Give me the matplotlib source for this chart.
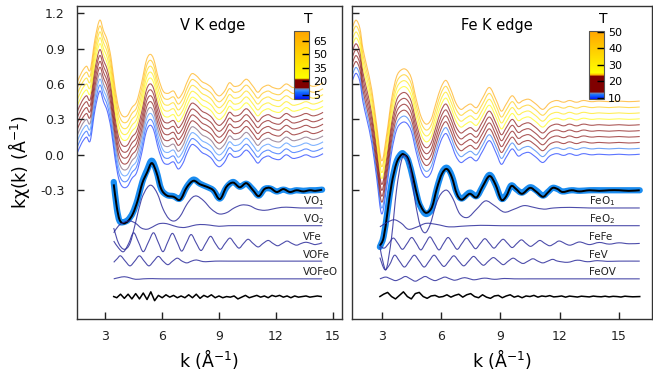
import numpy as np
import matplotlib
matplotlib.use("Agg")
import matplotlib.pyplot as plt
from matplotlib.path import Path
from matplotlib.patches import PathPatch
from matplotlib.colors import LinearSegmentedColormap, Normalize
from matplotlib.colorbar import ColorbarBase

plt.rcParams['font.family'] = ['DejaVu Sans']
plt.rcParams['axes.unicode_minus'] = False

# ---------------- V K edge : temperature series ----------------
v_k = [1.5, 1.75, 2.0, 2.2, 2.45, 2.7, 2.9, 3.1, 3.3, 3.5, 3.7, 3.9, 4.15, 4.4, 4.65, 4.9, 5.15, 5.35,
       5.55, 5.8, 6.05, 6.3, 6.6, 6.85, 7.1, 7.3, 7.55, 7.8, 8.1, 8.35, 8.6, 8.85, 9.05, 9.3, 9.55, 9.8,
       10.1, 10.45, 10.8, 11.05, 11.3, 11.6, 11.85, 12.2, 12.55, 12.9, 13.25, 13.6, 13.95, 14.25, 14.5]
v_base = [0.01, 0.10, 0.15, 0.12, 0.38, 0.54, 0.45, 0.37, 0.22, -0.02, -0.20, -0.27, -0.27, -0.20, -0.15,
          0.0, 0.19, 0.25, 0.21, 0.05, -0.06, -0.08, -0.06, -0.12, -0.07, 0.01, 0.085, 0.07, 0.02, 0.0,
          -0.03, -0.085, -0.10, -0.06, 0.01, -0.02, -0.01, 0.04, -0.02, -0.07, -0.03, -0.01, -0.03, -0.04,
          0.0, -0.03, -0.02, 0.0, -0.02, -0.01, 0.01]
v_offsets = [0.0, 0.05, 0.10, 0.15, 0.20, 0.25, 0.30, 0.35, 0.40, 0.45, 0.50, 0.55, 0.60]
v_temps = [2, 6, 10, 12, 15, 17, 19, 21, 25, 35, 45, 60, 72]

# fit (black) and data (blue)
vfit_k = [3.44, 3.6, 3.75, 3.95, 4.2, 4.45, 4.7, 4.95, 5.2, 5.45, 5.7, 5.95, 6.25, 6.6, 6.95, 7.3, 7.65,
          8.0, 8.35, 8.7, 9.05, 9.4, 9.75, 10.1, 10.45, 10.8, 11.1, 11.4, 11.7, 12.05, 12.4, 12.75, 13.1,
          13.45, 13.8, 14.1, 14.45]
vfit = [-0.25, -0.44, -0.55, -0.58, -0.56, -0.50, -0.39, -0.24, -0.15, -0.07, -0.15, -0.29, -0.345,
        -0.355, -0.38, -0.275, -0.22, -0.25, -0.27, -0.30, -0.375, -0.27, -0.235, -0.275, -0.24, -0.30,
        -0.35, -0.29, -0.28, -0.315, -0.29, -0.315, -0.30, -0.31, -0.30, -0.305, -0.295]
vdat = [-0.23, -0.45, -0.56, -0.57, -0.55, -0.49, -0.38, -0.23, -0.13, -0.05, -0.14, -0.29, -0.34,
        -0.35, -0.37, -0.27, -0.21, -0.245, -0.27, -0.30, -0.37, -0.275, -0.23, -0.27, -0.245, -0.295,
        -0.345, -0.29, -0.285, -0.31, -0.295, -0.31, -0.30, -0.305, -0.30, -0.30, -0.295]

# scattering paths (relative to their baselines)
vo1_k = [3.44, 3.7, 4.0, 4.3, 4.6, 4.9, 5.2, 5.45, 5.75, 6.05, 6.35, 6.65, 6.95, 7.3, 7.6, 7.85, 8.2,
         8.6, 9.0, 9.4, 9.8, 10.2, 10.6, 11.0, 11.4, 11.8, 12.3, 12.8, 13.3, 13.9, 14.45]
vo1_v = [-0.17, -0.30, -0.35, -0.30, -0.12, 0.07, 0.17, 0.19, 0.12, -0.01, -0.09, -0.11, -0.07, 0.03,
         0.09, 0.10, 0.06, -0.01, -0.05, -0.04, 0.0, 0.025, 0.02, -0.01, -0.02, -0.01, 0.005, 0.005,
         0.0, 0.0, 0.0]
vo2_k = [3.44, 3.7, 4.0, 4.3, 4.6, 4.9, 5.2, 5.5, 5.8, 6.1, 6.4, 6.8, 7.2, 7.6, 8.0, 8.5, 9.0, 9.5,
         10.5, 12.0, 14.45]
vo2_v = [-0.06, 0.0, 0.03, 0.04, 0.02, -0.02, -0.03, -0.01, 0.015, 0.02, 0.01, -0.01, -0.015, 0.0,
         0.01, 0.005, -0.005, 0.0, 0.0, 0.0, 0.0]
vfe_k = [3.44, 3.7, 3.96, 4.23, 4.49, 4.75, 5.0, 5.27, 5.54, 5.79, 6.04, 6.29, 6.54, 6.79, 7.03, 7.28,
         7.53, 7.79, 8.05, 8.3, 8.56, 8.81, 9.07, 9.32, 9.58, 9.82, 10.06, 10.3, 10.54, 10.8, 11.07,
         11.33, 11.6, 11.85, 12.1, 12.35, 12.6, 12.85, 13.1, 13.35, 13.6, 13.85, 14.1, 14.45]
vfe_v = [0.02, -0.04, -0.07, 0.0, 0.09, 0.01, -0.07, 0.01, 0.09, 0.01, -0.07, 0.01, 0.085, 0.01,
         -0.065, 0.005, 0.075, 0.005, -0.06, 0.0, 0.06, 0.0, -0.05, 0.0, 0.045, 0.0, -0.04, 0.0, 0.035,
         0.0, -0.03, 0.0, 0.025, 0.0, -0.02, 0.0, 0.02, 0.0, -0.015, 0.0, 0.01, 0.0, -0.01, 0.005]
vofe_k = [3.44, 3.62, 3.8, 4.05, 4.3, 4.55, 4.8, 5.05, 5.3, 5.55, 5.8, 6.05, 6.3, 6.55, 6.8, 7.05, 7.3,
          7.55, 7.8, 8.05, 8.3, 8.8, 9.5, 11.0, 12.5, 14.45]
vofe_v = [-0.01, 0.02, 0.045, 0.0, -0.04, 0.0, 0.045, 0.0, -0.04, 0.0, 0.04, 0.0, -0.03, 0.0, 0.025,
          0.0, -0.015, 0.0, 0.01, 0.0, -0.005, 0.0, 0.0, 0.0, 0.0, 0.0]
vofeo_k = [3.44, 3.7, 4.0, 4.3, 4.6, 5.0, 5.5, 6.0, 8.0, 11.0, 14.45]
vofeo_v = [0.0, 0.01, 0.018, 0.008, -0.004, 0.0, 0.002, 0.0, 0.0, 0.0, 0.0]
vres_k = [3.44, 3.6, 3.8, 4.0, 4.2, 4.4, 4.6, 4.8, 5.0, 5.2, 5.4, 5.6, 5.8, 6.0, 6.2, 6.4, 6.6, 6.8,
          7.0, 7.2, 7.4, 7.6, 7.8, 8.0, 8.2, 8.4, 8.6, 8.8, 9.0, 9.2, 9.4, 9.6, 9.8, 10.0, 10.2, 10.4,
          10.6, 10.8, 11.0, 11.2, 11.4, 11.6, 11.8, 12.0, 12.2, 12.4, 12.6, 12.8, 13.0, 13.2, 13.4,
          13.6, 13.8, 14.0, 14.2, 14.4]
vres_v = [0.0, -0.01, 0.02, -0.015, 0.02, -0.02, 0.025, -0.02, 0.03, -0.025,
          0.04, -0.035, 0.01, -0.01, 0.015, -0.005, 0.01, -0.01, 0.005, -0.01,
          0.015, -0.01, 0.02, -0.015, 0.01, -0.005, 0.015, -0.01, 0.005, -0.01,
          0.0, -0.005, 0.005, -0.02, -0.005, 0.01, -0.01, 0.0, 0.01, -0.005,
          0.005, -0.01, 0.01, 0.0, 0.01, -0.005, 0.005, -0.01, 0.005, -0.005,
          0.0, 0.005, -0.005, 0.0, 0.005, 0.0]
v_labels = ['VO$_1$', 'VO$_2$', 'VFe', 'VOFe', 'VOFeO']

# ---------------- Fe K edge ----------------
f_k = [1.5, 1.7, 1.9, 2.05, 2.25, 2.5, 2.75, 3.0, 3.25, 3.5, 3.75, 4.0, 4.25, 4.5, 4.75, 5.0, 5.25,
       5.5, 5.75, 6.0, 6.25, 6.5, 6.75, 7.0, 7.25, 7.5, 7.8, 8.1, 8.45, 8.8, 9.05, 9.3, 9.6, 9.9, 10.15,
       10.45, 10.8, 11.15, 11.5, 11.85, 12.2, 12.5, 12.85, 13.2, 13.6, 14.0, 14.5, 15.0, 15.5, 16.05]
f_base = [0.62, 0.69, 0.62, 0.45, 0.30, 0.10, -0.20, -0.50, -0.28, 0.02, 0.21, 0.27, 0.27, 0.20, 0.02,
          -0.13, -0.19, -0.15, -0.01, 0.12, 0.18, 0.10, -0.01, -0.065, -0.04, -0.02, -0.05, 0.03, 0.12,
          0.01, -0.08, -0.02, 0.05, -0.01, 0.01, 0.02, -0.02, -0.065, -0.01, 0.01, -0.005, 0.01, -0.005,
          0.01, 0.0, 0.005, 0.0, 0.005, 0.0, 0.005]
f_offsets = [0.0, 0.05, 0.10, 0.15, 0.20, 0.25, 0.30, 0.35, 0.40, 0.45]
f_temps = [10, 12, 15, 17, 19, 21, 26, 32, 40, 50]

ffit_k = [2.91, 3.1, 3.3, 3.5, 3.75, 4.0, 4.15, 4.35, 4.6, 4.85, 5.1, 5.3, 5.55, 5.8, 6.05, 6.3, 6.55,
          6.8, 7.05, 7.45, 7.8, 8.1, 8.45, 8.75, 9.05, 9.3, 9.55, 9.8, 10.1, 10.5, 10.8, 11.15, 11.4,
          11.65, 11.9, 12.15, 12.6, 13.0, 13.5, 14.0, 14.5, 15.0, 15.5, 16.05]
ffit = [-0.77, -0.70, -0.48, -0.25, -0.07, 0.0, 0.0, -0.04, -0.20, -0.38, -0.47, -0.49, -0.44, -0.28,
        -0.16, -0.12, -0.19, -0.33, -0.38, -0.33, -0.36, -0.27, -0.18, -0.25, -0.38, -0.35, -0.265,
        -0.29, -0.33, -0.28, -0.31, -0.355, -0.32, -0.28, -0.29, -0.315, -0.30, -0.31, -0.30, -0.305,
        -0.30, -0.30, -0.305, -0.30]
fdat = [-0.78, -0.69, -0.47, -0.24, -0.06, 0.01, 0.0, -0.05, -0.21, -0.39, -0.48, -0.50, -0.45, -0.28,
        -0.15, -0.11, -0.18, -0.32, -0.37, -0.32, -0.35, -0.27, -0.17, -0.25, -0.37, -0.34, -0.26,
        -0.29, -0.32, -0.275, -0.30, -0.345, -0.315, -0.28, -0.29, -0.31, -0.30, -0.305, -0.30, -0.30,
        -0.30, -0.30, -0.30, -0.30]

feo1_k = [2.91, 3.1, 3.25, 3.5, 3.75, 4.0, 4.2, 4.45, 4.7, 4.95, 5.2, 5.45, 5.75, 6.0, 6.3, 6.6, 6.95,
          7.35, 7.8, 8.25, 8.7, 9.2, 9.7, 10.2, 10.7, 11.2, 11.7, 12.5, 13.5, 14.5, 16.05]
feo1_v = [-0.33, -0.48, -0.51, -0.25, 0.15, 0.40, 0.44, 0.33, 0.05, -0.15, -0.21, -0.14, 0.03, 0.12,
          0.15, 0.08, -0.05, -0.08, -0.01, 0.06, 0.02, -0.035, -0.01, 0.02, 0.005, -0.01, 0.0, 0.005,
          0.0, 0.0, 0.0]
feo2_k = [2.91, 3.3, 3.65, 4.0, 4.35, 4.8, 5.25, 5.8, 6.4, 7.0, 8.0, 9.0, 11.0, 13.0, 16.05]
feo2_v = [-0.01, 0.03, 0.05, 0.02, -0.03, -0.01, 0.02, 0.01, -0.01, -0.005, 0.003, 0.0, 0.0, 0.0, 0.0]
fefe_k = [2.91, 3.13, 3.36, 3.59, 3.82, 4.05, 4.29, 4.52, 4.75, 4.98, 5.21, 5.44, 5.67, 5.9, 6.13,
          6.36, 6.59, 6.82, 7.06, 7.29, 7.52, 7.75, 7.99, 8.22, 8.45, 8.68, 8.91, 9.14, 9.37, 9.6,
          9.84, 10.07, 10.3, 10.53, 10.77, 11.0, 11.25, 11.5, 11.75, 12.0, 12.5, 13.0, 13.5, 14.0,
          14.5, 15.0, 15.5, 16.05]
fefe_v = [-0.02, -0.04, 0.0, 0.045, 0.0, -0.05, 0.0, 0.05, 0.0, -0.055, 0.0, 0.055, 0.0, -0.055, 0.0,
          0.05, 0.0, -0.05, 0.0, 0.045, 0.0, -0.045, 0.0, 0.04, 0.0, -0.04, 0.0, 0.035, 0.0, -0.035,
          0.0, 0.03, 0.0, -0.025, 0.0, 0.025, 0.0, -0.02, 0.0, 0.02, -0.015, 0.012, -0.01, 0.008,
          -0.006, 0.005, -0.003, 0.0]
fev_k = [2.91, 3.15, 3.4, 3.65, 3.9, 4.15, 4.4, 4.65, 4.9, 5.15, 5.4, 5.65, 5.9, 6.15, 6.4, 6.65, 6.9,
         7.15, 7.4, 7.65, 7.9, 8.15, 8.4, 8.65, 8.9, 9.15, 9.4, 9.65, 9.9, 10.15, 10.4, 10.65, 10.9,
         11.15, 11.4, 11.65, 11.9, 12.4, 12.9, 13.4, 13.9, 14.4, 15.0, 16.05]
fev_v = [0.03, -0.07, -0.03, 0.05, 0.0, -0.05, 0.0, 0.05, 0.0, -0.05, 0.0, 0.05, 0.0, -0.045, 0.0,
         0.045, 0.0, -0.04, 0.0, 0.04, 0.0, -0.035, 0.0, 0.03, 0.0, -0.03, 0.0, 0.025, 0.0, -0.02,
         0.0, 0.02, 0.0, -0.015, 0.0, 0.015, 0.0, -0.01, 0.008, -0.005, 0.004, -0.002, 0.0, 0.0]
feov_k = [2.91, 3.2, 3.45, 3.7, 3.95, 4.2, 4.45, 4.7, 4.95, 5.2, 5.45, 5.7, 5.95, 6.2, 6.45, 6.7, 6.95,
          7.2, 7.45, 7.7, 8.2, 8.7, 9.2, 9.7, 10.5, 12.0, 14.0, 16.05]
feov_v = [0.0, 0.015, 0.0, -0.015, 0.0, 0.02, 0.0, -0.02, 0.0, 0.02, 0.0, -0.015, 0.0, 0.015, 0.0,
          -0.012, 0.0, 0.01, 0.0, -0.008, 0.006, -0.004, 0.003, 0.0, 0.0, 0.0, 0.0, 0.0]
fres_k = [2.91, 3.1, 3.3, 3.5, 3.7, 3.9, 4.1, 4.3, 4.5, 4.7, 4.9, 5.1, 5.3, 5.5, 5.7, 5.9, 6.1, 6.3,
          6.5, 6.7, 6.9, 7.1, 7.3, 7.5, 7.7, 7.9, 8.1, 8.3, 8.5, 8.7, 8.9, 9.1, 9.3, 9.5, 9.7, 9.9,
          10.1, 10.3, 10.5, 10.7, 10.9, 11.1, 11.3, 11.5, 11.7, 11.9, 12.1, 12.3, 12.5, 12.7, 12.9,
          13.1, 13.3, 13.5, 13.7, 13.9, 14.1, 14.3, 14.5, 14.7, 14.9, 15.1, 15.3, 15.5, 15.7, 16.05]
fres_v = [0.0, 0.02, 0.035, 0.0, -0.02, 0.01, 0.04, 0.0, -0.02, 0.025,
          0.035, 0.0, -0.015, 0.005, 0.01, -0.005, 0.0, 0.015, -0.005, 0.01,
          0.02, -0.005, 0.015, 0.025, 0.0, -0.01, 0.015, -0.005, -0.015, 0.005,
          0.01, -0.01, 0.005, 0.015, -0.005, 0.005, -0.01, 0.005, 0.0, 0.01,
          -0.005, 0.005, 0.0, 0.008, -0.003, 0.0, 0.005, -0.005, 0.004, 0.0,
          -0.004, 0.003, 0.0, -0.003, 0.004, 0.0, -0.002, 0.003, -0.003, 0.002,
          0.0, -0.004, 0.003, 0.0, -0.002, 0.0]
f_labels = ['FeO$_1$', 'FeO$_2$', 'FeFe', 'FeV', 'FeOV']

path_baselines = [-0.45, -0.60, -0.75, -0.90, -1.05]
resid_baseline = -1.20

# colour scale nodes (temperature, colour)
v_cnodes = [(0.5, '#0018ff'), (8.0, '#1470ff'), (10.0, '#3d8cff'), (11.5, '#7080a8'),
            (13.0, '#800000'), (21.5, '#800000'), (23.5, '#ffff00'), (75.5, '#ffa500')]
f_cnodes = [(9.4, '#0018ff'), (11.8, '#1470ff'), (12.8, '#6f84b8'), (13.6, '#800000'),
            (23.0, '#800000'), (24.0, '#ffb000'), (25.0, '#ffff00'), (50.4, '#ffa500')]


def make_cmap(nodes):
    lo, hi = nodes[0][0], nodes[-1][0]
    cm = LinearSegmentedColormap.from_list(
        'c', [((t - lo) / (hi - lo), c) for t, c in nodes])
    return cm, Normalize(lo, hi)


def smooth(ax, k, v, **kw):
    P = np.column_stack([k, v]).astype(float)
    n = len(P)
    verts = [P[0]]
    codes = [Path.MOVETO]
    for i in range(n - 1):
        p0 = P[i - 1] if i > 0 else P[i]
        p1, p2 = P[i], P[i + 1]
        p3 = P[i + 2] if i + 2 < n else P[i + 1]
        verts += [p1 + (p2 - p0) / 6.0, p2 - (p3 - p1) / 6.0, p2]
        codes += [Path.CURVE4] * 3
    ax.add_patch(PathPatch(Path(verts, codes), fill=False, **kw))


fig = plt.figure(figsize=(6.53, 3.80), dpi=100)
W, H = 653.0, 380.0
axL = fig.add_axes([77 / W, 1 - 319 / H, 265 / W, 313 / H])
axR = fig.add_axes([352 / W, 1 - 319 / H, 300 / W, 313 / H])

panels = [
    (axL, v_k, v_base, v_offsets, v_temps, v_cnodes, vfit_k, vfit, vdat,
     [(vo1_k, vo1_v), (vo2_k, vo2_v), (vfe_k, vfe_v), (vofe_k, vofe_v), (vofeo_k, vofeo_v)],
     (vres_k, vres_v), v_labels, (1.5, 15.5), 'V K edge', 13.45, 0.513),
    (axR, f_k, f_base, f_offsets, f_temps, f_cnodes, ffit_k, ffit, fdat,
     [(feo1_k, feo1_v), (feo2_k, feo2_v), (fefe_k, fefe_v), (fev_k, fev_v), (feov_k, feov_v)],
     (fres_k, fres_v), f_labels, (1.5, 16.67), 'Fe K edge', 13.5, 0.482),
]

for (ax, kk, base, offs, temps, cnodes, fk, fv, dv, paths, res, labels, xl, title, lx, tx) in panels:
    cmap, norm = make_cmap(cnodes)
    for off, T in zip(offs, temps):
        smooth(ax, kk, np.array(base) + off, edgecolor=cmap(norm(T)), lw=0.8, alpha=0.65)
    smooth(ax, fk, dv, edgecolor='#1a8cf0', lw=4.5, capstyle='round', joinstyle='round')
    smooth(ax, fk, fv, edgecolor='black', lw=1.4)
    for (pk, pv), b, lab in zip(paths, path_baselines, labels):
        smooth(ax, pk, np.array(pv) + b, edgecolor='#2e2e9c', lw=0.8, alpha=0.85)
        ax.text(lx, b + 0.055, lab, fontsize=7.5, ha='left', va='center', color='#222222')
    ax.plot(res[0], np.array(res[1]) + resid_baseline, color='black', lw=1.1)

    ax.set_xlim(*xl)
    ax.set_ylim(-1.39, 1.26)
    ax.set_xticks([3, 6, 9, 12, 15])
    ax.set_yticks([-0.3, 0.0, 0.3, 0.6, 0.9, 1.2])
    ax.tick_params(direction='in', length=5, width=1, labelsize=9, colors='#222222')
    ax.tick_params(axis='x', pad=8)
    ax.tick_params(axis='y', pad=9)
    for s in ax.spines.values():
        s.set_color('#333333')
        s.set_linewidth(1.0)
    ax.set_xlabel('k (Å$^{-1}$)', fontsize=12.5, labelpad=3)
    ax.text(tx, 0.939, title, transform=ax.transAxes, fontsize=10.5, ha='center', va='center')

axL.set_yticklabels(['-0.3', '0.0', '0.3', '0.6', '0.9', '1.2'])
axR.set_yticklabels([])
axL.set_ylabel('kχ(k) (Å$^{-1}$)', fontsize=12.5, labelpad=6)

# colour bars
for (x0, cnodes, ticks, tx) in [(294, v_cnodes, [5, 20, 35, 50, 65], 308),
                                 (589, f_cnodes, [10, 20, 30, 40, 50], 603)]:
    cmap, norm = make_cmap(cnodes)
    cax = fig.add_axes([x0 / W, 1 - 99 / H, 15 / W, 68 / H])
    cb = ColorbarBase(cax, cmap=cmap, norm=norm, orientation='vertical')
    cb.set_ticks(ticks)
    cax.tick_params(direction='in', length=5, width=1, labelsize=8, colors='black', pad=3)
    cb.outline.set_linewidth(0.8)
    cb.outline.set_edgecolor('#555555')
    fig.text(tx / W, 1 - 19 / H, 'T', fontsize=10, ha='center', va='center')

fig.savefig('out.png', dpi=100)
